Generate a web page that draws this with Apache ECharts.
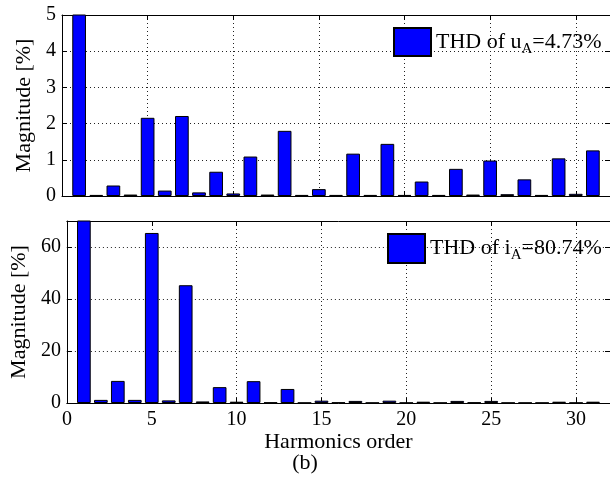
<!DOCTYPE html>
<html><head><meta charset="utf-8">
<script src="https://cdn.jsdelivr.net/npm/echarts@6/dist/echarts.min.js"></script>
<style>html,body{margin:0;padding:0;background:#fff}#c{width:610px;height:477px}</style>
</head><body><div id="c"></div>
<script>
const orders = [1,2,3,4,5,6,7,8,9,10,11,12,13,14,15,16,17,18,19,20,21,22,23,24,25,26,27,28,29,30,31];
const voltageHarm = [100,0.03,0.29,0.04,2.16,0.15,2.21,0.10,0.67,0.07,1.09,0.04,1.80,0.03,0.19,0.03,1.17,0.03,1.44,0.03,0.40,0.03,0.75,0.04,0.98,0.05,0.46,0.03,1.04,0.06,1.26];
const currentHarm = [100,1.2,8.5,1.2,65.4,1.0,45.3,0.6,6.1,0.5,8.4,0.2,5.4,0.1,0.9,0.2,0.8,0.1,0.9,0.1,0.5,0.1,0.8,0.2,0.8,0.1,0.1,0.1,0.5,0.1,0.5];
const xTicks = [0,5,10,15,20,25,30];
const topYTicks = [0,1,2,3,4,5];
const botYTicks = [0,20,40,60];
const legendTop = ['THD of u','A','=4.73%'];
const legendBot = ['THD of i','A','=80.74%'];

const F = 'Liberation Serif';
const chart = echarts.init(document.getElementById('c'));
const pair = (vals) => orders.map((o,i)=>[o, vals[i]]);
const gridDash = {type:[1,3], color:'#222', width:1};
function xAx(gi, showLabel, name){
  return {type:'value', gridIndex:gi, min:0, max:32, interval:5,
    axisLine:{show:true, onZero:false, lineStyle:{color:'#000'}},
    axisTick:{show:true, inside:true, length:5, lineStyle:{color:'#000'}},
    axisLabel:{show:showLabel, showMaxLabel:false, color:'#000', fontFamily:F, fontSize:20, margin:7},
    splitLine:{show:true, lineStyle:gridDash},
    name:name||'', nameLocation:'middle', nameGap:27,
    nameTextStyle:{fontFamily:F, fontSize:22, color:'#000'}};
}
function xTop(gi){
  return {type:'value', gridIndex:gi, position:'top', min:0, max:32, interval:5,
    axisLine:{show:true, onZero:false, lineStyle:{color:'#000', width:1}},
    axisTick:{show:true, inside:true, length:5, lineStyle:{color:'#000'}},
    axisLabel:{show:false}, splitLine:{show:false}};
}
function yAx(gi, max, interval, showMax){
  return {type:'value', gridIndex:gi, min:0, max:max, interval:interval,
    axisLine:{show:true, onZero:false, lineStyle:{color:'#000'}},
    axisTick:{show:true, inside:true, length:5, lineStyle:{color:'#000'}},
    axisLabel:{show:true, showMaxLabel:showMax, color:'#000', fontFamily:F, fontSize:20, margin:6},
    splitLine:{show:true, lineStyle:gridDash},
    name:'Magnitude [%]', nameLocation:'middle', nameGap:gi===0?21:27,
    nameTextStyle:{fontFamily:F, fontSize:22, color:'#000'}};
}
function yRight(gi, max, interval){
  return {type:'value', gridIndex:gi, position:'right', min:0, max:max, interval:interval,
    axisLine:{show:true, onZero:false, lineStyle:{color:'#000'}},
    axisTick:{show:true, inside:true, length:5, lineStyle:{color:'#000'}},
    axisLabel:{show:false}, splitLine:{show:false}};
}
const rich = {n:{fontFamily:F, fontSize:22, color:'#000'}, s:{fontFamily:F, fontSize:15, color:'#000', verticalAlign:'bottom', padding:[14,0,0,0]}};
const fmt = (p) => '{n|'+p[0]+'}{s|'+p[1]+'}{n|'+p[2]+'}';
const nameTop = legendTop.join('');
const nameBot = legendBot.join('');
const barStyle = {color:'#0000ff', borderColor:'#000', borderWidth:1};

chart.setOption({
  animation:false,
  backgroundColor:'#fff',
  grid:[
    {left:62, top:15, width:549, height:181},
    {left:62, top:221, width:549, height:182}
  ],
  xAxis:[xAx(0,false), xAx(1,true,'Harmonics order'), xTop(0), xTop(1)],
  yAxis:[yAx(0,5,1,true), yAx(1,70,20,false), yRight(0,5,1), yRight(1,70,20)],
  legend:[
    {data:[{name:nameTop, icon:'rect'}], left:393, top:27, itemWidth:37, itemHeight:28, itemGap:4, padding:0,
     formatter:()=>fmt(legendTop), textStyle:{rich:rich}},
    {data:[{name:nameBot, icon:'rect'}], left:387, top:233, itemWidth:37, itemHeight:29, itemGap:3, padding:0,
     formatter:()=>fmt(legendBot), textStyle:{rich:rich}}
  ],
  graphic:[{type:'text', left:'center', top:452, style:{text:'(b)', font:'22px "Liberation Serif"', fill:'#000'}}],
  series:[
    {type:'bar', name:nameTop, xAxisIndex:0, yAxisIndex:0, data:pair(voltageHarm), barWidth:13.7, clip:true, itemStyle:barStyle},
    {type:'bar', name:nameBot, xAxisIndex:1, yAxisIndex:1, data:pair(currentHarm), barWidth:13.7, clip:true, itemStyle:barStyle}
  ]
});
</script></body></html>
